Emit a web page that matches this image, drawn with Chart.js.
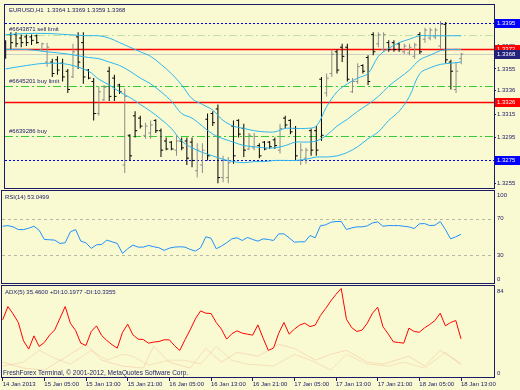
<!DOCTYPE html>
<html>
<head>
<meta charset="utf-8">
<title>EURUSD,H1</title>
<script src="https://cdn.jsdelivr.net/npm/chart.js@4.4.1/dist/chart.umd.min.js"></script>
<style>
  body { margin: 0; background: #fafad2; }
  #chartBox { position: relative; width: 520px; height: 390px; overflow: hidden; }
  #chartBox canvas { position: absolute; left: 0; top: 0; }
</style>
</head>
<body>
<div id="chartBox">
  <canvas id="priceChart" width="520" height="390"></canvas>
  <canvas id="rsiChart" width="520" height="390"></canvas>
  <canvas id="adxChart" width="520" height="390"></canvas>
</div>
<script>
// EURUSD H1 bars, 14 Jan 21:00 .. 18 Jan 13:00 (index = hours from first bar)
const barOpen = [
  1.3378, 1.3385, 1.3385, 1.3382, 1.3383, 1.3383, 1.3384, 1.3372, 1.3361, 1.3361,
  1.3363, 1.3360, 1.3353, 1.3348, 1.3383, 1.3378, 1.3354, 1.3344, 1.3316, 1.3328,
  1.3353, 1.3347, 1.3341, 1.3271, 1.3297, 1.3314, 1.3312, 1.3297, 1.3299, 1.3310,
  1.3301, 1.3292, 1.3291, 1.3284, 1.3292, 1.3292, 1.3291, 1.3266, 1.3271, 1.3311,
  1.3316, 1.3320, 1.3260, 1.3260, 1.3305, 1.3310, 1.3303, 1.3285, 1.3286, 1.3288,
  1.3291, 1.3291, 1.3293, 1.3284, 1.3312, 1.3310, 1.3303, 1.3275, 1.3277, 1.3301,
  1.3301, 1.3346, 1.3334, 1.3351, 1.3370, 1.3374, 1.3374, 1.3335, 1.3344, 1.3358,
  1.3365, 1.3385, 1.3377, 1.3372, 1.3378, 1.3378, 1.3377, 1.3370, 1.3369, 1.3366,
  1.3385, 1.3381, 1.3382, 1.3383, 1.3375, 1.3394, 1.3361, 1.3337, 1.3364
];
const barHigh = [
  1.3380, 1.3387, 1.3387, 1.3385, 1.3385, 1.3385, 1.3385, 1.3378, 1.3378, 1.3364,
  1.3366, 1.3364, 1.3355, 1.3377, 1.3387, 1.3387, 1.3355, 1.3347, 1.3340, 1.3341,
  1.3357, 1.3350, 1.3342, 1.3338, 1.3298, 1.3318, 1.3314, 1.3308, 1.3310, 1.3311,
  1.3303, 1.3295, 1.3292, 1.3297, 1.3295, 1.3295, 1.3295, 1.3290, 1.3290, 1.3316,
  1.3318, 1.3324, 1.3279, 1.3278, 1.3310, 1.3311, 1.3307, 1.3299, 1.3299, 1.3290,
  1.3292, 1.3292, 1.3295, 1.3307, 1.3314, 1.3311, 1.3305, 1.3290, 1.3286, 1.3303,
  1.3305, 1.3348, 1.3351, 1.3372, 1.3372, 1.3377, 1.3377, 1.3347, 1.3360, 1.3359,
  1.3367, 1.3387, 1.3387, 1.3387, 1.3380, 1.3380, 1.3378, 1.3377, 1.3377, 1.3378,
  1.3387, 1.3391, 1.3391, 1.3391, 1.3397, 1.3396, 1.3363, 1.3361, 1.3369
];
const barLow = [
  1.3364, 1.3372, 1.3374, 1.3374, 1.3375, 1.3376, 1.3377, 1.3370, 1.3357, 1.3348,
  1.3350, 1.3344, 1.3334, 1.3347, 1.3355, 1.3342, 1.3346, 1.3310, 1.3314, 1.3327,
  1.3327, 1.3327, 1.3333, 1.3264, 1.3275, 1.3295, 1.3303, 1.3294, 1.3294, 1.3299,
  1.3278, 1.3284, 1.3284, 1.3279, 1.3284, 1.3271, 1.3269, 1.3260, 1.3264, 1.3275,
  1.3305, 1.3255, 1.3256, 1.3255, 1.3272, 1.3295, 1.3278, 1.3284, 1.3284, 1.3277,
  1.3284, 1.3285, 1.3285, 1.3281, 1.3303, 1.3298, 1.3275, 1.3271, 1.3272, 1.3279,
  1.3279, 1.3292, 1.3331, 1.3348, 1.3351, 1.3361, 1.3344, 1.3334, 1.3342, 1.3351,
  1.3341, 1.3367, 1.3374, 1.3370, 1.3370, 1.3370, 1.3370, 1.3368, 1.3367, 1.3364,
  1.3368, 1.3378, 1.3380, 1.3381, 1.3372, 1.3360, 1.3337, 1.3334, 1.3359
];
const barClose = [
  1.3372, 1.3378, 1.3377, 1.3378, 1.3378, 1.3380, 1.3378, 1.3377, 1.3374, 1.3351,
  1.3354, 1.3348, 1.3337, 1.3370, 1.3361, 1.3348, 1.3347, 1.3316, 1.3335, 1.3339,
  1.3331, 1.3331, 1.3335, 1.3331, 1.3279, 1.3301, 1.3305, 1.3305, 1.3306, 1.3301,
  1.3284, 1.3285, 1.3285, 1.3292, 1.3286, 1.3277, 1.3275, 1.3284, 1.3284, 1.3279,
  1.3308, 1.3260, 1.3275, 1.3273, 1.3279, 1.3298, 1.3284, 1.3297, 1.3296, 1.3279,
  1.3285, 1.3287, 1.3288, 1.3303, 1.3306, 1.3300, 1.3279, 1.3284, 1.3284, 1.3284,
  1.3284, 1.3297, 1.3347, 1.3368, 1.3354, 1.3366, 1.3346, 1.3344, 1.3357, 1.3353,
  1.3344, 1.3370, 1.3385, 1.3385, 1.3372, 1.3372, 1.3372, 1.3375, 1.3374, 1.3376,
  1.3370, 1.3389, 1.3389, 1.3389, 1.3394, 1.3363, 1.3353, 1.3353, 1.3368
];

// Bollinger bands, read at these bar indexes
const bbIdx = [0, 4, 8, 12, 16, 18, 20, 22, 24, 26, 28, 30, 32, 34, 36, 38, 40, 42, 44, 46,
  48, 50, 52, 54, 56, 58, 60, 62, 64, 66, 68, 70, 72, 74, 76, 78, 80, 82, 84, 86, 88];
const bbUpper = [1.3385, 1.3386, 1.3386, 1.3385, 1.3384, 1.3384, 1.3382, 1.3378, 1.3374, 1.3370,
  1.3366, 1.3359, 1.3351, 1.3341, 1.3329, 1.3324, 1.3319, 1.3310, 1.3305, 1.3303,
  1.3301, 1.3300, 1.3300, 1.3303, 1.3303, 1.3303, 1.3305, 1.3322, 1.3335, 1.3342,
  1.3347, 1.3351, 1.3366, 1.3373, 1.3378, 1.3381, 1.3384, 1.3384, 1.3384, 1.3384, 1.3384];
const bbMiddle = [1.3372, 1.3372, 1.3370, 1.3368, 1.3365, 1.3364, 1.3361, 1.3358, 1.3353, 1.3347,
  1.3342, 1.3335, 1.3327, 1.3316, 1.3312, 1.3305, 1.3298, 1.3294, 1.3291, 1.3288,
  1.3287, 1.3286, 1.3286, 1.3288, 1.3291, 1.3291, 1.3292, 1.3297, 1.3305, 1.3311,
  1.3318, 1.3324, 1.3331, 1.3340, 1.3347, 1.3354, 1.3363, 1.3367, 1.3371, 1.3372, 1.3372];
const bbLower = [1.3355, 1.3358, 1.3360, 1.3359, 1.3353, 1.3346, 1.3341, 1.3335, 1.3330, 1.3324,
  1.3318, 1.3311, 1.3303, 1.3292, 1.3286, 1.3282, 1.3279, 1.3276, 1.3274, 1.3273,
  1.3274, 1.3274, 1.3275, 1.3275, 1.3275, 1.3276, 1.3278, 1.3278, 1.3279, 1.3282,
  1.3287, 1.3294, 1.3300, 1.3310, 1.3318, 1.3331, 1.3351, 1.3356, 1.3359, 1.3360, 1.3361];

const rsiValues = [
  61.7, 62.4, 61.0, 58.1, 58.1, 59.5, 61.7, 57.4, 47.3, 47.0,
  46.6, 43.0, 43.7, 55.6, 58.1, 45.5, 43.7, 37.6, 41.5, 41.9,
  46.6, 44.8, 43.0, 32.2, 37.2, 41.2, 39.0, 39.0, 40.8, 39.4,
  38.3, 35.4, 37.9, 39.0, 39.4, 39.0, 36.5, 34.7, 38.3, 50.2,
  48.7, 37.2, 40.1, 43.7, 48.0, 49.1, 46.2, 49.5, 47.3, 45.5,
  48.0, 47.3, 46.2, 53.4, 53.4, 49.1, 44.4, 44.8, 44.8, 51.6,
  49.1, 62.1, 63.2, 66.0, 66.8, 66.8, 58.1, 59.9, 61.0, 61.0,
  62.1, 65.3, 66.4, 61.7, 62.4, 62.4, 62.4, 61.7, 61.0, 59.2,
  64.3, 64.6, 62.4, 62.8, 66.8, 58.1, 48.0, 50.2, 53.0
];
const adxValues = [
  54.8, 68.2, 60.8, 52.1, 33.6, 25.2, 38.6, 27.9, 31.9, 39.3,
  44.7, 56.4, 68.2, 51.4, 44.0, 31.2, 28.9, 43.0, 48.7, 39.0,
  33.9, 29.6, 26.2, 42.0, 50.4, 39.6, 35.3, 34.9, 31.2, 32.3,
  32.9, 34.6, 34.6, 28.6, 23.9, 34.6, 44.7, 55.8, 63.8, 61.5,
  61.2, 52.1, 45.4, 35.3, 40.7, 43.7, 41.3, 40.3, 39.3, 49.7,
  36.3, 23.9, 26.2, 41.3, 52.1, 40.3, 45.4, 49.4, 51.4, 48.0,
  49.4, 59.1, 66.2, 73.9, 80.6, 86.5, 55.4, 47.0, 43.0, 44.4,
  51.4, 61.5, 67.5, 48.0, 40.7, 32.6, 31.9, 31.2, 46.4, 43.0,
  42.3, 46.7, 50.1, 54.1, 61.5, 48.7, 52.1, 54.1, 35.5
];
// +DI / -DI (barely visible), read at turning points
const diPlusIdx = [0, 4, 8, 13, 16, 19, 23, 27, 29, 32, 36, 39, 42, 45, 49, 53, 56, 60, 63, 66, 70, 73, 78, 81, 84, 88];
const diPlusVals = [12, 6, 4, 20, 30, 14, 8, 6, 28, 12, 6, 26, 12, 22, 18, 30, 26, 14, 20, 24, 12, 10, 18, 8, 24, 10];
const diMinusIdx = [0, 4, 7, 10, 13, 17, 20, 23, 25, 28, 32, 35, 38, 41, 44, 47, 52, 56, 60, 63, 66, 70, 74, 77, 81, 85, 88];
const diMinusVals = [8, 12, 24, 16, 10, 24, 14, 20, 18, 9, 14, 14, 10, 28, 14, 10, 8, 20, 12, 4, 20, 10, 8, 12, 6, 22, 10];

const priceTicks = [1.3255, 1.3275, 1.3295, 1.3315, 1.3336, 1.3355, 1.3375, 1.3395];
const blueLevels = [1.3395, 1.3275];
const redLevels = [1.3372, 1.3326];
const bidPrice = 1.3368;
const orderLevels = [1.3385, 1.3340, 1.3296];
const orderNames = ['#6643871 sell limit', '#6645201 buy limit', '#6639286 buy'];
const rsiLevels = [70, 30];
const rsiTicks = [100, 70, 30, 0];
const adxTicks = [84, 0];
const timeIdx = [0, 8, 16, 24, 32, 40, 48, 56, 64, 72, 80, 88];
const timeLabels = ['14 Jan 2013', '15 Jan 05:00', '15 Jan 13:00', '15 Jan 21:00', '16 Jan 05:00',
  '16 Jan 13:00', '16 Jan 21:00', '17 Jan 05:00', '17 Jan 13:00', '17 Jan 21:00',
  '18 Jan 05:00', '18 Jan 13:00'];

const NAVY = '#1a1a66';
const FONT = '"Liberation Sans", Arial, sans-serif';
const BB_COLOR = '#2cb6ee';
const X_MIN = -0.13, X_MAX = 94.33;

Chart.defaults.font.family = FONT;
Chart.defaults.font.size = 6;

const barColor = i => barClose[i] >= barOpen[i] ? '#8c8c8c' : '#000000';

function frame(chart) {
  const { ctx, chartArea: a } = chart;
  ctx.save();
  ctx.strokeStyle = NAVY;
  ctx.lineWidth = 1;
  ctx.strokeRect(a.left - 0.5, a.top - 0.5, a.right - a.left + 1, a.bottom - a.top + 1);
  ctx.restore();
}

function hLine(chart, value, color, width, dash) {
  const { ctx, chartArea: a, scales: { y } } = chart;
  const py = Math.round(y.getPixelForValue(value)) + 0.5;
  ctx.save();
  ctx.strokeStyle = color;
  ctx.lineWidth = width;
  ctx.setLineDash(dash || []);
  ctx.beginPath();
  ctx.moveTo(a.left, py);
  ctx.lineTo(a.right, py);
  ctx.stroke();
  ctx.restore();
}

function label(ctx, str, x, y, color, size) {
  ctx.save();
  ctx.font = (size || 6) + 'px ' + FONT;
  ctx.fillStyle = color || NAVY;
  ctx.textAlign = 'left';
  ctx.textBaseline = 'middle';
  ctx.fillText(str, x, y);
  ctx.restore();
}

function priceBox(chart, value, bg) {
  const { ctx, chartArea: a, scales: { y } } = chart;
  const py = Math.round(y.getPixelForValue(value));
  ctx.save();
  ctx.fillStyle = bg;
  ctx.fillRect(a.right + 1, py - 4, 520 - a.right - 1, 9);
  ctx.restore();
  label(ctx, value.toFixed(4), a.right + 3, py + 0.5, '#ffffff');
}

function sideText(chart, value) {
  const { ctx, chartArea: a, scales: { y } } = chart;
  const py = Math.min(Math.max(y.getPixelForValue(value), a.top + 4), a.bottom - 4);
  label(ctx, String(value), a.right + 3, py);
}

const priceDecor = {
  id: 'priceDecor',
  beforeDatasetsDraw(chart) {
    orderLevels.forEach((v, k) => hLine(chart, v, k === 0 ? '#bfe2a4' : '#32cd32', 1, [8, 3, 2, 3]));
    hLine(chart, bidPrice, '#cfcfc4', 1);
    blueLevels.forEach(v => hLine(chart, v, '#0000ff', 1, [2, 2]));
    redLevels.forEach(v => hLine(chart, v, '#ff0000', 1.5));
  },
  afterDraw(chart) {
    const { ctx, chartArea: a, scales: { y } } = chart;
    frame(chart);
    label(ctx, 'EURUSD,H1  1.3364 1.3369 1.3359 1.3368', a.left + 4, a.top + 5);
    orderLevels.forEach((v, k) => label(ctx, orderNames[k], a.left + 4, y.getPixelForValue(v) - 5));
    blueLevels.forEach(v => priceBox(chart, v, '#0000ff'));
    redLevels.forEach(v => priceBox(chart, v, '#ff0000'));
    priceBox(chart, bidPrice, '#22227a');
  }
};

const rsiDecor = {
  id: 'rsiDecor',
  beforeDatasetsDraw(chart) {
    rsiLevels.forEach(v => hLine(chart, v, '#b8b8a6', 1, [3, 3]));
  },
  afterDraw(chart) {
    const { ctx, chartArea: a } = chart;
    frame(chart);
    label(ctx, 'RSI(14) 53.0499', a.left + 3, a.top + 6);
    rsiTicks.forEach(v => sideText(chart, v));
  }
};

const adxDecor = {
  id: 'adxDecor',
  afterDraw(chart) {
    const { ctx, chartArea: a } = chart;
    frame(chart);
    label(ctx, 'ADX(5) 35.4600 +DI:10.1977 -DI:10.3355', a.left + 3, a.top + 6);
    label(ctx, 'FreshForex Terminal, \u00a9 2001-2012, MetaQuotes Software Corp.', a.left + 1, a.bottom - 4, NAVY, 6.5);
    adxTicks.forEach(v => sideText(chart, v));
  }
};

const common = {
  responsive: false,
  animation: false,
  events: [],
  plugins: { legend: { display: false }, tooltip: { enabled: false } }
};

// price panel
new Chart(document.getElementById('priceChart'), {
  type: 'line',
  data: {
    datasets: [
      {
        type: 'bar',
        data: barHigh.map((h, i) => ({ x: i, y: [barLow[i], h] })),
        backgroundColor: c => barColor(c.dataIndex),
        barThickness: 1,
        inflateAmount: 0,
        grouped: false,
        order: 3
      },
      {
        data: barOpen.map((v, i) => ({ x: i - 0.21, y: v })),
        showLine: false,
        pointStyle: 'line',
        pointRadius: 1.1,
        pointBorderWidth: 1,
        pointBorderColor: c => barColor(c.dataIndex),
        order: 2
      },
      {
        data: barClose.map((v, i) => ({ x: i + 0.21, y: v })),
        showLine: false,
        pointStyle: 'line',
        pointRadius: 1.1,
        pointBorderWidth: 1,
        pointBorderColor: c => barColor(c.dataIndex),
        order: 2
      },
      { data: bbIdx.map((b, k) => ({ x: b, y: bbUpper[k] })), borderColor: BB_COLOR, borderWidth: 1, pointRadius: 0, tension: 0.35, order: 1 },
      { data: bbIdx.map((b, k) => ({ x: b, y: bbMiddle[k] })), borderColor: BB_COLOR, borderWidth: 1, pointRadius: 0, tension: 0.35, order: 1 },
      { data: bbIdx.map((b, k) => ({ x: b, y: bbLower[k] })), borderColor: BB_COLOR, borderWidth: 1, pointRadius: 0, tension: 0.35, order: 1 }
    ]
  },
  options: {
    ...common,
    layout: { padding: { left: 2, top: 2, right: 0, bottom: 202 } },
    scales: {
      x: { type: 'linear', min: X_MIN, max: X_MAX, offset: false, display: false },
      y: {
        position: 'right',
        min: 1.32509,
        max: 1.34109,
        afterBuildTicks: s => { s.ticks = priceTicks.map(v => ({ value: v })); },
        afterFit: s => { s.width = 26; s.paddingTop = 0; s.paddingBottom = 0; },
        ticks: { callback: v => v.toFixed(4), color: NAVY, padding: 1, autoSkip: false },
        grid: { drawOnChartArea: false, tickLength: 2, color: NAVY },
        border: { display: false }
      }
    }
  },
  plugins: [priceDecor]
});

// RSI panel
new Chart(document.getElementById('rsiChart'), {
  type: 'line',
  data: {
    datasets: [{
      data: rsiValues.map((v, i) => ({ x: i, y: v })),
      borderColor: '#1e90ff',
      borderWidth: 1,
      pointRadius: 0
    }]
  },
  options: {
    ...common,
    layout: { padding: { left: 2, top: 191, right: 26, bottom: 107 } },
    scales: {
      x: { type: 'linear', min: X_MIN, max: X_MAX, display: false },
      y: { min: 0, max: 100, display: false }
    }
  },
  plugins: [rsiDecor]
});

// ADX panel with time axis
new Chart(document.getElementById('adxChart'), {
  type: 'line',
  data: {
    datasets: [
      { data: diPlusIdx.map((b, k) => ({ x: b, y: diPlusVals[k] })), borderColor: 'rgba(240,140,110,0.28)', borderWidth: 1, pointRadius: 0 },
      { data: diMinusIdx.map((b, k) => ({ x: b, y: diMinusVals[k] })), borderColor: 'rgba(230,160,120,0.28)', borderWidth: 1, pointRadius: 0 },
      { data: adxValues.map((v, i) => ({ x: i, y: v })), borderColor: '#ff0000', borderWidth: 1, pointRadius: 0 }
    ]
  },
  options: {
    ...common,
    layout: { padding: { left: 2, top: 286, right: 26, bottom: 0 } },
    scales: {
      x: {
        type: 'linear',
        min: X_MIN,
        max: X_MAX,
        afterBuildTicks: s => { s.ticks = timeIdx.map(v => ({ value: v })); },
        afterFit: s => { s.height = 13; s.paddingLeft = 0; s.paddingRight = 0; },
        ticks: {
          callback: (v, k) => timeLabels[k],
          align: 'start',
          padding: 0,
          color: NAVY,
          autoSkip: false,
          maxRotation: 0
        },
        grid: { drawOnChartArea: false, tickLength: 4, color: NAVY },
        border: { display: false }
      },
      y: { min: -3, max: 89, display: false }
    }
  },
  plugins: [adxDecor]
});
</script>
</body>
</html>
